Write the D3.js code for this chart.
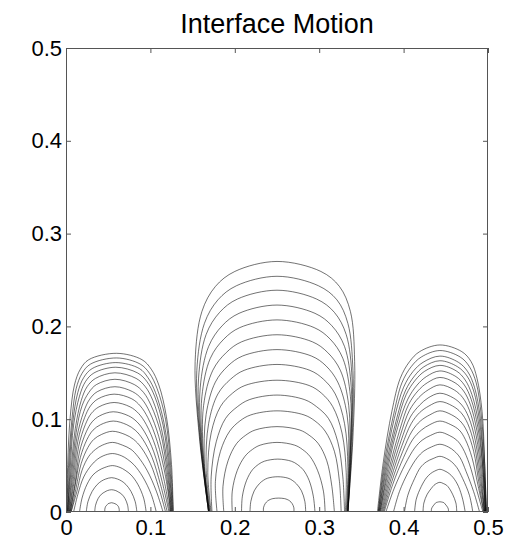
<!DOCTYPE html>
<html>
<head>
<meta charset="utf-8">
<script src="https://cdn.jsdelivr.net/npm/d3@7"></script>
<style>
  body { margin: 0; background: #fff; }
  svg { display: block; }
  text { font-family: "Liberation Sans", Arial, Helvetica, sans-serif; fill: #000; }
</style>
</head>
<body>
<svg id="chart" width="518" height="540"></svg>
<script>
// ---- data -------------------------------------------------------------
const chartTitle = "Interface Motion";
const xTickValues = [0, 0.1, 0.2, 0.3, 0.4, 0.5];
const yTickValues = [0, 0.1, 0.2, 0.3, 0.4, 0.5];
const xTickLabels = ["0", "0.1", "0.2", "0.3", "0.4", "0.5"];
const yTickLabels = ["0", "0.1", "0.2", "0.3", "0.4", "0.5"];

// Each front is sampled on its two flanks at these fractions of its own height.
const flankFractions = [0, 0.3, 0.6, 0.8, 0.9, 0.96];

// Left bubble: front heights, apex x, left flank x, right flank x
const leftTops = [0.171, 0.166, 0.161, 0.156, 0.150, 0.143, 0.135, 0.127, 0.118,
                  0.108, 0.098, 0.087, 0.075, 0.063, 0.050, 0.037, 0.024, 0.010];
const leftApexX = [0.060, 0.060, 0.059, 0.059, 0.058, 0.058, 0.058, 0.057, 0.057,
                   0.056, 0.056, 0.055, 0.055, 0.055, 0.055, 0.054, 0.054, 0.054];
const leftFlankL = [
  [0.001, 0.002, 0.005, 0.010, 0.017, 0.027],
  [0.001, 0.003, 0.007, 0.012, 0.019, 0.029],
  [0.002, 0.004, 0.008, 0.014, 0.021, 0.031],
  [0.002, 0.005, 0.009, 0.016, 0.023, 0.033],
  [0.002, 0.006, 0.011, 0.018, 0.025, 0.035],
  [0.003, 0.007, 0.012, 0.019, 0.027, 0.036],
  [0.003, 0.008, 0.013, 0.021, 0.028, 0.037],
  [0.004, 0.009, 0.014, 0.022, 0.029, 0.038],
  [0.004, 0.010, 0.015, 0.023, 0.030, 0.039],
  [0.005, 0.011, 0.016, 0.024, 0.031, 0.040],
  [0.005, 0.011, 0.017, 0.025, 0.032, 0.041],
  [0.006, 0.012, 0.018, 0.026, 0.033, 0.042],
  [0.006, 0.013, 0.019, 0.027, 0.035, 0.043],
  [0.009, 0.014, 0.021, 0.030, 0.037, 0.044],
  [0.016, 0.019, 0.025, 0.032, 0.039, 0.046],
  [0.024, 0.026, 0.031, 0.037, 0.042, 0.047],
  [0.034, 0.035, 0.038, 0.042, 0.046, 0.049],
  [0.046, 0.046, 0.047, 0.049, 0.050, 0.052]
];
const leftFlankR = [
  [0.127, 0.125, 0.119, 0.110, 0.101, 0.090],
  [0.127, 0.124, 0.118, 0.108, 0.099, 0.088],
  [0.126, 0.123, 0.116, 0.106, 0.097, 0.087],
  [0.126, 0.122, 0.115, 0.105, 0.096, 0.085],
  [0.125, 0.121, 0.113, 0.103, 0.094, 0.083],
  [0.125, 0.120, 0.112, 0.101, 0.092, 0.081],
  [0.124, 0.119, 0.110, 0.099, 0.090, 0.079],
  [0.124, 0.118, 0.108, 0.097, 0.088, 0.078],
  [0.123, 0.116, 0.106, 0.095, 0.086, 0.076],
  [0.122, 0.114, 0.104, 0.093, 0.084, 0.074],
  [0.120, 0.112, 0.102, 0.091, 0.082, 0.072],
  [0.118, 0.110, 0.100, 0.089, 0.080, 0.070],
  [0.115, 0.107, 0.096, 0.085, 0.077, 0.067],
  [0.107, 0.101, 0.091, 0.081, 0.073, 0.066],
  [0.095, 0.092, 0.085, 0.077, 0.070, 0.064],
  [0.084, 0.082, 0.077, 0.071, 0.066, 0.061],
  [0.074, 0.073, 0.070, 0.066, 0.062, 0.059],
  [0.063, 0.063, 0.062, 0.060, 0.058, 0.056]
];

// Middle bubble
const midTops = [0.270, 0.254, 0.239, 0.223, 0.207, 0.191, 0.175, 0.159,
                 0.142, 0.126, 0.109, 0.092, 0.075, 0.057, 0.038, 0.015];
const midApexX = [0.250, 0.250, 0.250, 0.250, 0.250, 0.250, 0.250, 0.250,
                  0.250, 0.250, 0.250, 0.250, 0.250, 0.251, 0.251, 0.252];
const midFlankL = [
  [0.169, 0.158, 0.153, 0.161, 0.177, 0.200],
  [0.169, 0.159, 0.155, 0.164, 0.180, 0.202],
  [0.169, 0.160, 0.157, 0.166, 0.182, 0.203],
  [0.169, 0.161, 0.159, 0.169, 0.185, 0.205],
  [0.170, 0.162, 0.161, 0.171, 0.187, 0.206],
  [0.170, 0.163, 0.163, 0.174, 0.190, 0.208],
  [0.170, 0.164, 0.166, 0.177, 0.192, 0.209],
  [0.171, 0.166, 0.169, 0.180, 0.195, 0.211],
  [0.172, 0.168, 0.172, 0.183, 0.197, 0.212],
  [0.173, 0.172, 0.178, 0.189, 0.203, 0.217],
  [0.179, 0.177, 0.183, 0.194, 0.206, 0.219],
  [0.187, 0.186, 0.192, 0.202, 0.213, 0.224],
  [0.197, 0.197, 0.203, 0.212, 0.221, 0.230],
  [0.208, 0.209, 0.214, 0.221, 0.228, 0.235],
  [0.218, 0.219, 0.223, 0.229, 0.234, 0.239],
  [0.234, 0.234, 0.236, 0.239, 0.242, 0.245]
];
const midFlankR = [
  [0.334, 0.340, 0.342, 0.337, 0.324, 0.302],
  [0.334, 0.339, 0.340, 0.334, 0.321, 0.299],
  [0.334, 0.338, 0.339, 0.332, 0.318, 0.297],
  [0.334, 0.337, 0.338, 0.330, 0.315, 0.295],
  [0.334, 0.337, 0.337, 0.328, 0.313, 0.294],
  [0.333, 0.336, 0.335, 0.325, 0.310, 0.292],
  [0.333, 0.335, 0.333, 0.322, 0.308, 0.291],
  [0.332, 0.334, 0.330, 0.319, 0.305, 0.289],
  [0.331, 0.332, 0.327, 0.316, 0.303, 0.288],
  [0.330, 0.328, 0.322, 0.311, 0.297, 0.283],
  [0.326, 0.324, 0.318, 0.307, 0.295, 0.282],
  [0.318, 0.315, 0.309, 0.299, 0.288, 0.277],
  [0.307, 0.305, 0.298, 0.289, 0.280, 0.271],
  [0.295, 0.293, 0.288, 0.281, 0.274, 0.267],
  [0.284, 0.283, 0.279, 0.273, 0.268, 0.263],
  [0.270, 0.270, 0.268, 0.265, 0.262, 0.259]
];

// Right bubble
const rightTops = [0.180, 0.174, 0.168, 0.163, 0.158, 0.152, 0.145, 0.137, 0.128,
                   0.119, 0.109, 0.098, 0.086, 0.073, 0.060, 0.046, 0.032, 0.011];
const rightApexX = [0.443, 0.443, 0.443, 0.443, 0.443, 0.443, 0.443, 0.443, 0.443,
                    0.443, 0.443, 0.443, 0.443, 0.443, 0.443, 0.443, 0.443, 0.443];
const rightFlankL = [
  [0.369, 0.376, 0.386, 0.396, 0.407, 0.419],
  [0.370, 0.377, 0.388, 0.398, 0.409, 0.421],
  [0.370, 0.378, 0.389, 0.400, 0.411, 0.423],
  [0.371, 0.379, 0.391, 0.402, 0.413, 0.424],
  [0.371, 0.380, 0.392, 0.403, 0.414, 0.425],
  [0.372, 0.381, 0.393, 0.405, 0.416, 0.427],
  [0.372, 0.382, 0.395, 0.406, 0.417, 0.428],
  [0.373, 0.383, 0.396, 0.407, 0.418, 0.429],
  [0.374, 0.384, 0.397, 0.408, 0.419, 0.429],
  [0.375, 0.385, 0.398, 0.409, 0.419, 0.430],
  [0.376, 0.386, 0.399, 0.410, 0.420, 0.431],
  [0.377, 0.387, 0.400, 0.411, 0.421, 0.431],
  [0.379, 0.389, 0.402, 0.413, 0.422, 0.432],
  [0.388, 0.395, 0.406, 0.416, 0.424, 0.433],
  [0.401, 0.405, 0.413, 0.420, 0.427, 0.435],
  [0.413, 0.415, 0.421, 0.427, 0.432, 0.437],
  [0.423, 0.424, 0.428, 0.433, 0.436, 0.439],
  [0.433, 0.433, 0.435, 0.437, 0.438, 0.440]
];
const rightFlankR = [
  [0.498, 0.496, 0.493, 0.487, 0.480, 0.469],
  [0.498, 0.496, 0.492, 0.486, 0.478, 0.467],
  [0.498, 0.495, 0.491, 0.484, 0.476, 0.465],
  [0.497, 0.495, 0.490, 0.483, 0.475, 0.464],
  [0.497, 0.494, 0.489, 0.481, 0.473, 0.463],
  [0.497, 0.494, 0.488, 0.480, 0.472, 0.462],
  [0.497, 0.493, 0.487, 0.479, 0.471, 0.461],
  [0.496, 0.492, 0.486, 0.478, 0.470, 0.460],
  [0.496, 0.491, 0.485, 0.477, 0.469, 0.459],
  [0.496, 0.490, 0.484, 0.476, 0.468, 0.458],
  [0.495, 0.489, 0.483, 0.475, 0.467, 0.457],
  [0.495, 0.488, 0.481, 0.473, 0.466, 0.456],
  [0.494, 0.486, 0.478, 0.470, 0.463, 0.454],
  [0.490, 0.483, 0.474, 0.467, 0.460, 0.453],
  [0.482, 0.478, 0.470, 0.463, 0.457, 0.451],
  [0.473, 0.470, 0.465, 0.459, 0.454, 0.449],
  [0.463, 0.462, 0.458, 0.454, 0.451, 0.447],
  [0.453, 0.453, 0.451, 0.449, 0.448, 0.446]
];

// ---- layout -----------------------------------------------------------
const svg = d3.select("#chart");
const plot = { left: 66, right: 488, top: 48, bottom: 512 };
const tickLen = 5;

const x = d3.scaleLinear().domain([0, 0.5]).range([plot.left, plot.right]);
const y = d3.scaleLinear().domain([0, 0.5]).range([plot.bottom, plot.top]);

svg.append("defs").append("clipPath").attr("id", "plot-clip")
  .append("rect")
  .attr("x", plot.left).attr("y", plot.top)
  .attr("width", plot.right - plot.left).attr("height", plot.bottom - plot.top);

// ---- fronts -----------------------------------------------------------
function frontPoints(top, apexX, flankL, flankR) {
  const leftSide = flankL.map((xv, k) => [xv, flankFractions[k] * top]);
  const rightSide = flankR.map((xv, k) => [xv, flankFractions[k] * top]).reverse();
  return leftSide.concat([[apexX, top]], rightSide);
}

const bubbles = [
  { tops: leftTops, apex: leftApexX, fl: leftFlankL, fr: leftFlankR },
  { tops: midTops, apex: midApexX, fl: midFlankL, fr: midFlankR },
  { tops: rightTops, apex: rightApexX, fl: rightFlankL, fr: rightFlankR }
];

const line = d3.line()
  .x(d => x(d[0]))
  .y(d => y(d[1]))
  .curve(d3.curveCatmullRom.alpha(0.5));

const frontsG = svg.append("g").attr("clip-path", "url(#plot-clip)");
bubbles.forEach(b => {
  frontsG.append("g").selectAll("path")
    .data(b.tops.map((t, i) => frontPoints(t, b.apex[i], b.fl[i], b.fr[i])))
    .join("path")
    .attr("d", line)
    .attr("fill", "none")
    .attr("stroke", "#000")
    .attr("stroke-opacity", 0.62)
    .attr("stroke-width", 0.9);
});

// ---- axes -------------------------------------------------------------
const axisColor = "#555";
function styleAxis(g) {
  g.select(".domain").remove();
  g.selectAll(".tick line").attr("stroke", axisColor);
  g.selectAll(".tick text").style("font-size", "22px").attr("fill", "#000");
}

svg.append("g")
  .attr("transform", `translate(0,${plot.bottom})`)
  .call(d3.axisBottom(x).tickValues(xTickValues).tickSize(-tickLen).tickPadding(7)
    .tickFormat((d, i) => xTickLabels[i]))
  .call(styleAxis);

svg.append("g")
  .attr("transform", `translate(0,${plot.top})`)
  .call(d3.axisTop(x).tickValues(xTickValues).tickSize(-tickLen).tickFormat(""))
  .call(styleAxis);

svg.append("g")
  .attr("transform", `translate(${plot.left},0)`)
  .call(d3.axisLeft(y).tickValues(yTickValues).tickSize(-tickLen).tickPadding(4)
    .tickFormat((d, i) => yTickLabels[i]))
  .call(styleAxis);

svg.append("g")
  .attr("transform", `translate(${plot.right},0)`)
  .call(d3.axisRight(y).tickValues(yTickValues).tickSize(-tickLen).tickFormat(""))
  .call(styleAxis);

svg.append("rect")
  .attr("x", plot.left + 0.5).attr("y", plot.top + 0.5)
  .attr("width", plot.right - plot.left - 1).attr("height", plot.bottom - plot.top - 1)
  .attr("fill", "none").attr("stroke", axisColor).attr("stroke-width", 1);

// ---- title ------------------------------------------------------------
svg.append("text")
  .attr("x", (plot.left + plot.right) / 2)
  .attr("y", 33)
  .attr("text-anchor", "middle")
  .style("font-size", "27px")
  .text(chartTitle);
</script>
</body>
</html>
